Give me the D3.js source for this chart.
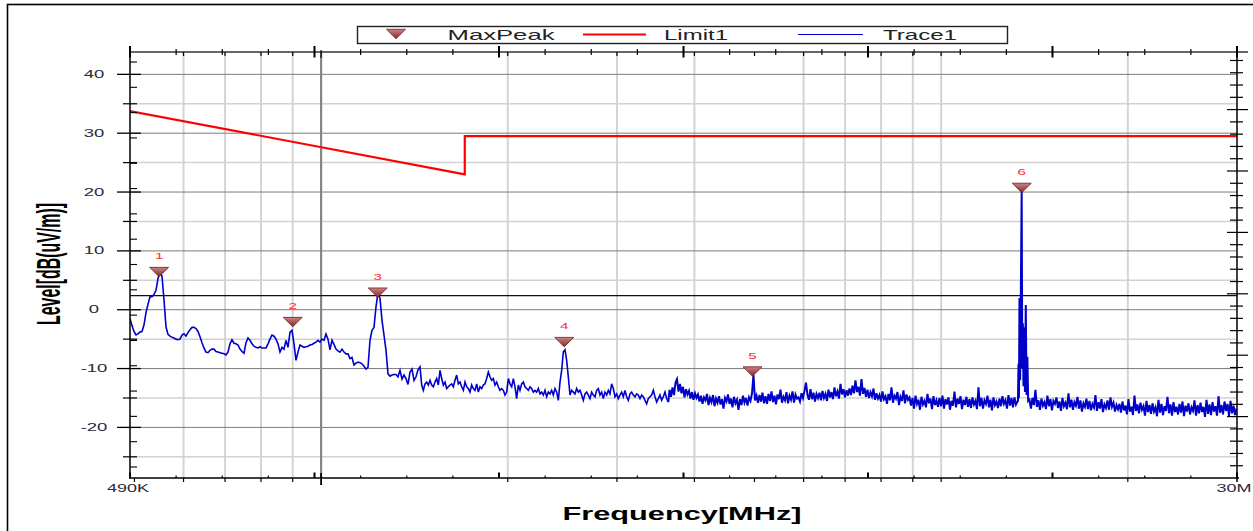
<!DOCTYPE html>
<html><head><meta charset="utf-8">
<script src="https://cdn.jsdelivr.net/npm/d3@7/dist/d3.min.js"></script>
<style>html,body{margin:0;padding:0;background:#fff;overflow:hidden}</style>
</head><body><svg id="c" width="1253" height="531"></svg>
<script>
// ---------------- DATA ----------------
const xDomain = [0.49, 30];            // MHz
const yDomain = [-28.6, 43.8];         // dBuV/m
const yTicks = [-20, -10, 0, 10, 20, 30, 40];
const yMinorGrid = [-25, -15, -5, 5, 15, 25, 35];
const xGridFreqs = [0.6, 0.7, 0.8, 0.9, 2, 3, 4, 6, 7, 8, 9, 10, 20];
const xDecadeGrid = [1];
const xLogTicks = [0.5, 0.6, 0.7, 0.8, 0.9, 1, 2, 3, 4, 5, 6, 7, 8, 9, 10, 20];
const xTickLabels = ["490K", "30M"];
const xTickLabelFreqs = [0.49, 30];
const limitFreq = [0.49, 1.705, 1.705, 30];
const limitLevel = [33.8, 23.0, 29.5, 29.5];
const displayLine = 2.4;
const markerFreq = [0.548, 0.900, 1.234, 2.467, 4.963, 13.49];
const markerLevel = [6.4, -2.1, 2.9, -5.5, -10.5, 20.7];
const markerLabel = ["1", "2", "3", "4", "5", "6"];
const legendNames = ["MaxPeak", "Limit1", "Trace1"];

// Trace1: sweep segments (start/stop MHz, levels at log-spaced sweep points)
const segA = {start: 0.4918, stop: 1.4438, levels: [
-1.5,-2.7,-3.7,-4.3,-4.1,-3.8,-3.7,-2.6,-0.5,0.9,
2.2,2.2,2.6,3.3,5.3,6.4,5.7,1.7,-2.9,-4.2,
-4.5,-4.7,-4.8,-5.0,-5.1,-5.0,-4.3,-4.1,-4.5,-3.9,
-3.4,-3.0,-3.0,-3.2,-3.7,-4.6,-5.6,-6.5,-7.2,-7.3,
-6.9,-6.7,-6.7,-7.1,-7.2,-7.3,-7.4,-7.5,-7.7,-7.2,
-5.8,-5.1,-5.7,-5.8,-6.0,-6.7,-7.1,-7.4,-5.6,-4.8,
-5.2,-5.8,-6.2,-6.4,-6.5,-6.3,-6.5,-6.5,-6.5,-5.8,
-5.0,-4.3,-4.5,-5.0,-5.8,-7.2,-6.4,-6.7,-5.2,-6.4,
-3.8,-3.5,-5.8,-8.6,-7.2,-6.0,-6.2,-6.4,-6.3,-6.2,
-6.0,-5.9,-5.7,-5.5,-5.2,-5.5,-5.0,-5.2,-4.1,-5.0,
-6.8,-5.2,-5.9,-6.7,-7.0,-7.2,-6.7,-7.2,-7.5,-7.5,
-8.3,-8.1,-9.4,-9.1,-8.9,-9.0,-9.2,-9.6,-10.1,-9.8,
-5.2,-3.5,-3.0,0.5,2.9,1.9,-1.8,-4.3,-6.9,-10.9,
-11.3,-11.1,-11.0,-11.0,-11.4,-10.3,-11.8,-11.1,-11.7,-12.7,
-10.6,-10.1,-12.0,-11.4,-10.2,-9.7]};
const segB = {start: 1.4528, stop: 3.6306, levels: [
-12.8,-13.7,-12.6,-12.3,-12.8,-12.0,-12.8,-13.1,-12.3,-11.7,
-12.8,-10.3,-11.7,-12.8,-12.3,-13.4,-13.1,-12.8,-12.6,-13.1,
-12.0,-11.1,-12.6,-12.3,-13.1,-13.7,-12.3,-13.1,-13.4,-14.0,
-12.8,-13.4,-13.7,-12.6,-14.0,-13.1,-13.4,-12.8,-12.6,-11.7,
-10.6,-11.4,-12.0,-11.7,-12.8,-12.3,-13.1,-13.7,-13.4,-13.7,
-14.5,-14.0,-11.7,-12.6,-13.1,-11.7,-13.1,-15.1,-12.8,-13.7,
-12.6,-12.3,-13.1,-13.4,-13.7,-13.1,-13.4,-14.0,-13.7,-14.0,
-13.4,-14.3,-14.0,-14.5,-13.7,-14.8,-14.0,-14.3,-13.7,-14.5,
-13.4,-14.0,-15.4,-12.3,-10.3,-7.2,-6.8,-8.6,-11.4,-14.5,
-13.7,-14.0,-14.3,-13.4,-14.0,-13.7,-14.5,-15.4,-14.3,-14.0,
-14.5,-15.1,-14.0,-14.5,-14.8,-13.7,-13.4,-14.5,-14.0,-15.1,
-14.0,-14.5,-13.7,-14.3,-12.6,-13.4,-14.8,-14.3,-15.1,-14.5,
-14.0,-14.8,-13.7,-14.8,-15.4,-14.3,-14.0,-14.5,-14.8,-14.3,
-14.5,-15.1,-14.5,-14.8,-15.4,-16.0,-15.1,-14.8,-14.5,-13.7,
-14.8,-15.7,-15.1,-14.5,-15.4,-14.8,-14.0,-15.1,-15.7]};
const segC1 = {start: 3.6465, stop: 13.276, levels: [
-13.6,-14.8,-13.2,-14.5,-12.4,-11.8,-13.9,-12.6,-14.2,-13.1,-14.9,-13.5,-14.4,-13.8,-15.1,-14.0,-15.3,-14.2,-15.0,-14.4,
-15.6,-14.6,-16.0,-14.9,-15.4,-14.3,-16.2,-15.0,-15.7,-14.5,-16.4,-15.1,-15.8,-14.7,-16.1,-15.2,-16.8,-15.0,-15.6,-14.4,
-16.0,-15.1,-16.6,-14.8,-15.9,-15.3,-17.0,-15.2,-16.2,-14.6,-15.8,-15.0,-16.3,-14.9,-15.5,-14.2,-11.1,-15.4,-14.6,-15.8,
-14.5,-15.6,-14.1,-15.9,-14.7,-16.0,-14.3,-15.5,-13.9,-15.7,-14.6,-16.1,-14.4,-15.2,-13.6,-15.8,-14.8,-15.4,-14.0,-15.9,
-14.6,-15.3,-13.9,-15.8,-14.4,-15.1,-14.9,-15.6,-14.2,-15.0,-13.8,-12.4,-14.5,-15.3,-13.5,-15.2,-14.1,-15.6,-14.3,-15.0,
-14.1,-15.4,-13.8,-15.0,-14.3,-15.5,-13.6,-14.9,-14.0,-15.2,-13.2,-14.7,-13.9,-15.1,-12.6,-14.4,-13.5,-14.9,-13.7,-14.6,
-13.4,-14.5,-12.9,-14.2,-12.0,-14.0,-13.1,-14.6,-11.8,-14.3,-13.3,-14.8,-13.6,-15.0,-14.0,-14.7,-13.4,-15.3,-14.2,-15.1,
-14.5,-15.6,-13.9,-15.2,-14.7,-16.0,-14.3,-15.4,-13.2,-15.8,-14.6,-15.1,-14.0,-16.2,-14.8,-15.5,-13.7,-15.9,-14.4,-15.3,
-14.9,-16.3,-15.0,-16.8,-14.6,-16.0,-15.3,-17.0,-14.8,-16.1,-15.5,-16.6,-14.3,-15.9,-15.1,-16.9,-14.7,-16.2,-15.4,-16.5,
-15.0,-16.4,-14.6,-16.8,-15.2,-16.1,-14.9,-17.0,-15.5,-16.3,-13.9,-16.6,-15.1,-16.0,-14.7,-16.9,-15.3,-16.2,-14.8,-16.5,
-15.2,-16.7,-14.9,-16.1,-15.5,-16.9,-13.2,-16.4,-15.0,-16.8,-15.4,-16.0,-14.6,-16.6,-15.3,-17.1,-14.9,-16.2,-15.6,-16.7,
-15.1,-16.4,-14.7,-16.0,-15.4,-16.8,-14.5,-16.3,-15.0,-16.6,-14.9,-16.1,-15.6]};
const peak6 = [[13.301,-15.5],[13.326,-9.2],[13.350,-15.0],[13.375,2.0],[13.410,-12.0],[13.440,1.5],
[13.485,20.2],[13.515,-10.0],[13.545,-2.3],[13.575,-13.0],[13.611,-3.0],[13.651,-14.0],
[13.692,0.8],[13.733,-14.5],[13.774,-8.0],[13.815,-15.5]];
const segC2 = {start: 13.879, stop: 29.947, levels: [
-15.3,-16.8,-15.0,-16.2,-13.6,-16.5,-15.4,-17.0,-15.1,-16.3,-15.7,-16.9,-14.6,-16.4,-15.2,-17.1,-15.5,-16.0,-14.9,-16.7,
-15.6,-17.2,-15.0,-16.4,-15.8,-16.9,-14.2,-16.6,-15.3,-17.0,-15.7,-16.3,-14.8,-16.8,-15.4,-17.3,-15.9,-16.5,-15.1,-16.9,
-15.5,-17.1,-16.0,-16.6,-14.5,-17.2,-15.7,-16.8,-15.2,-17.4,-16.1,-16.7,-15.4,-17.0,-14.9,-16.5,-15.8,-17.3,-16.2,-16.9,
-16.0,-17.5,-15.6,-17.1,-16.3,-17.8,-15.2,-17.3,-16.5,-17.9,-14.6,-17.2,-16.1,-17.6,-15.8,-17.0,-16.4,-18.0,-15.5,-17.4,
-16.2,-17.7,-15.9,-17.3,-16.6,-18.1,-15.3,-17.5,-16.0,-17.9,-16.4,-17.2,-14.8,-17.6,-16.1,-18.0,-15.7,-17.4,-16.5,-17.8,
-16.0,-17.5,-15.6,-18.1,-16.3,-17.3,-15.9,-17.8,-16.6,-17.2,-15.4,-18.0,-16.2,-17.6,-15.8,-17.4,-16.5,-18.2,-15.3,-17.7,
-16.1,-17.9,-15.7,-17.3,-16.4,-18.0,-14.7,-17.5,-16.2,-17.8,-15.6,-17.2,-16.0,-18.1,-15.5,-17.6,-16.3,-17.9,-16.8]};

// ---------------- DRAW ----------------
const FONT = "'Liberation Sans', Arial, Helvetica, sans-serif";
const svg = d3.select("#c");
const P = {l: 130, r: 1237, t: 52, b: 478};
const x = d3.scaleLog().domain(xDomain).range([129, 1237]);
const y = d3.scaleLinear().domain(yDomain).range([P.b, P.t]);

function sweep(seg) {
  const n = seg.levels.length;
  return seg.levels.map((v, i) => [seg.start * Math.pow(seg.stop / seg.start, i / (n - 1)), v]);
}
const traceSparse = [...sweep(segA), ...sweep(segB)];
const traceDense = [traceSparse[traceSparse.length - 1], ...sweep(segC1), ...peak6, ...sweep(segC2)];

function stext(g, px, py, str, o) {
  return g.append("text")
    .attr("transform", `translate(${px},${py}) scale(${o.sx || 1},1)`)
    .attr("text-anchor", o.anchor || "middle")
    .attr("font-family", FONT).attr("font-size", o.size)
    .attr("font-weight", o.weight || "normal")
    .attr("fill", o.fill || "#000").text(str);
}

const defs = svg.append("defs");
defs.append("clipPath").attr("id", "clip").append("rect")
  .attr("x", P.l).attr("y", P.t).attr("width", P.r - P.l).attr("height", P.b - P.t);
const grad = defs.append("linearGradient").attr("id", "mk").attr("x1", 0).attr("y1", 0).attr("x2", 0).attr("y2", 1);
grad.append("stop").attr("offset", "0").attr("stop-color", "#c98484");
grad.append("stop").attr("offset", "1").attr("stop-color", "#8a2424");

// outer frame
svg.append("rect").attr("x", 7.5).attr("y", 4.5).attr("width", 1400).attr("height", 700)
  .attr("fill", "none").attr("stroke", "#000").attr("stroke-width", 1.6);

// grid
const grid = svg.append("g");
grid.selectAll(".vg").data(xGridFreqs).join("line")
  .attr("x1", d => x(d)).attr("x2", d => x(d)).attr("y1", P.t).attr("y2", P.b)
  .attr("stroke", "#d4d4d4").attr("stroke-width", 2);
grid.selectAll(".hmg").data(yMinorGrid).join("line")
  .attr("x1", P.l).attr("x2", P.r).attr("y1", d => y(d)).attr("y2", d => y(d))
  .attr("stroke", "#d2d2d2").attr("stroke-width", 1.5);
grid.selectAll(".hg").data(yTicks).join("line")
  .attr("x1", P.l).attr("x2", P.r).attr("y1", d => y(d)).attr("y2", d => y(d))
  .attr("stroke", "#7c7c7c").attr("stroke-width", 1);
grid.selectAll(".dg").data(xDecadeGrid).join("line")
  .attr("x1", d => x(d)).attr("x2", d => x(d)).attr("y1", P.t).attr("y2", P.b)
  .attr("stroke", "#858585").attr("stroke-width", 2.2);
grid.append("line").attr("x1", P.l).attr("x2", P.r)
  .attr("y1", y(displayLine)).attr("y2", y(displayLine))
  .attr("stroke", "#111").attr("stroke-width", 1.1);

// data
const data = svg.append("g").attr("clip-path", "url(#clip)");
const line = d3.line().x(d => x(d[0])).y(d => y(d[1]));
data.append("path").datum(limitFreq.map((f, i) => [f, limitLevel[i]]))
  .attr("d", line).attr("fill", "none").attr("stroke", "#ff0000").attr("stroke-width", 2.2);
data.append("path").datum(traceSparse)
  .attr("d", line).attr("fill", "none").attr("stroke", "#0000cc")
  .attr("stroke-width", 1.6);
data.append("path").datum(traceDense)
  .attr("d", line).attr("fill", "none").attr("stroke", "#0000c8")
  .attr("stroke-width", 2.0);

// markers
const tri = "M-9.5,-4.7L9.5,-4.7L0,4.7Z";
const mg = svg.append("g");
markerFreq.forEach((f, i) => {
  mg.append("path").attr("d", tri)
    .attr("transform", `translate(${x(f)},${y(markerLevel[i])})`)
    .attr("fill", "url(#mk)").attr("stroke", "#6e1c1c").attr("stroke-width", 0.8);
  stext(mg, x(f), y(markerLevel[i]) - 13, markerLabel[i], {size: 9.5, sx: 1.6, fill: "#ff2e2e"});
});

// axes lines
const ax = svg.append("g").attr("stroke", "#000");
ax.append("line").attr("x1", P.l).attr("x2", P.l).attr("y1", 46.5).attr("y2", P.b + 0.5).attr("stroke-width", 1.5);
ax.append("line").attr("x1", P.r).attr("x2", P.r).attr("y1", 46.5).attr("y2", P.b + 4).attr("stroke-width", 1.5);
ax.append("line").attr("x1", P.l).attr("x2", 1248).attr("y1", P.t).attr("y2", P.t).attr("stroke", "#333").attr("stroke-width", 1.3);
ax.append("line").attr("x1", P.l - 1).attr("x2", P.r + 2).attr("y1", P.b).attr("y2", P.b).attr("stroke-width", 1.5);

// left ticks
ax.selectAll(".lt").data(yTicks).join("line")
  .attr("x1", 117).attr("x2", 141).attr("y1", d => y(d)).attr("y2", d => y(d)).attr("stroke-width", 1.3);
ax.selectAll(".lmt").data(yMinorGrid).join("line")
  .attr("x1", 123).attr("x2", 137).attr("y1", d => y(d)).attr("y2", d => y(d)).attr("stroke-width", 1.2);
const leftSec = d3.scaleLinear().domain([0, 16]).range([467, 62]);
ax.selectAll(".lst").data(d3.range(17)).join("line")
  .attr("x1", P.l).attr("x2", P.l + 7).attr("y1", d => leftSec(d)).attr("y2", d => leftSec(d)).attr("stroke-width", 1.1);
// right ticks
const rightSec = d3.scaleLinear().domain([0, 34]).range([P.b, P.b - 34 * 12.28]);
ax.selectAll(".rt").data(d3.range(1, 35)).join("line")
  .attr("x1", d => d % 5 === 0 ? 1227 : 1230).attr("x2", d => d % 5 === 0 ? 1248 : 1243)
  .attr("y1", d => rightSec(d)).attr("y2", d => rightSec(d)).attr("stroke-width", 1.2);
// top / bottom linear ticks
const linTick = d3.scaleLinear().domain([0, 24]).range([P.l, P.r]);
ax.selectAll(".tt").data(d3.range(25)).join("line")
  .attr("x1", d => linTick(d)).attr("x2", d => linTick(d))
  .attr("y1", d => d % 4 === 0 ? 46 : 49).attr("y2", d => d % 4 === 0 ? 57.5 : 55)
  .attr("stroke-width", d => d % 4 === 0 ? 2 : 1.2);
ax.selectAll(".bt").data(d3.range(25)).join("line")
  .attr("x1", d => linTick(d)).attr("x2", d => linTick(d))
  .attr("y1", d => d % 4 === 0 ? 472.5 : 475.5).attr("y2", P.b)
  .attr("stroke-width", d => d % 4 === 0 ? 2 : 1.2);
// log ticks
ax.selectAll(".tlt").data(xLogTicks.filter(f => f > 0.55)).join("line")
  .attr("x1", d => x(d)).attr("x2", d => x(d))
  .attr("y1", d => d === 1 ? 50 : P.t).attr("y2", d => d === 1 ? 58 : 56)
  .attr("stroke-width", 1.2);
ax.selectAll(".blt").data(xLogTicks).join("line")
  .attr("x1", d => x(d)).attr("x2", d => x(d))
  .attr("y1", d => d === 1 ? 473 : P.b).attr("y2", d => d === 1 ? 485 : 482)
  .attr("stroke-width", d => d === 1 ? 1.8 : 1.2);

// tick labels
const tl = svg.append("g");
yTicks.forEach(v => stext(tl, 94, y(v) + 3.6, String(v), {size: 10, sx: 1.85, fill: "#2a2a3a"}));
xTickLabels.forEach((t, i) => stext(tl, x(xTickLabelFreqs[i]) + (i === 0 ? -1 : -3), 491.5, t, {size: 10, sx: 1.8, fill: "#2a2a3a"}));

// axis titles
svg.append("text").attr("x", 682).attr("y", 520).attr("text-anchor", "middle")
  .attr("font-family", FONT).attr("font-size", 17.5).attr("font-weight", "bold")
  .attr("textLength", 239).attr("lengthAdjust", "spacingAndGlyphs").text("Frequency[MHz]");
svg.append("text").attr("transform", "translate(60,264) scale(2.1,1) rotate(-90)")
  .attr("text-anchor", "middle").attr("font-family", FONT).attr("font-size", 16).attr("font-weight", "bold")
  .attr("textLength", 122).attr("lengthAdjust", "spacingAndGlyphs").text("Level[dB(uV/m)]");

// legend
const lg = svg.append("g");
lg.append("rect").attr("x", 357.5).attr("y", 26.5).attr("width", 650).attr("height", 17)
  .attr("fill", "#fff").attr("stroke", "#222").attr("stroke-width", 1.4);
lg.append("path").attr("d", tri).attr("transform", "translate(396,34)")
  .attr("fill", "url(#mk)").attr("stroke", "#6e1c1c").attr("stroke-width", 0.8);
lg.append("line").attr("x1", 583).attr("x2", 646).attr("y1", 34.5).attr("y2", 34.5).attr("stroke", "#ff0000").attr("stroke-width", 2);
lg.append("line").attr("x1", 798).attr("x2", 863).attr("y1", 34.5).attr("y2", 34.5).attr("stroke", "#0000cc").attr("stroke-width", 1);
const legX = [447.5, 664, 883], legW = [107, 64, 74];
legendNames.forEach((n, i) => lg.append("text").attr("x", legX[i]).attr("y", 39.5)
  .attr("font-family", FONT).attr("font-size", 15).attr("fill", "#222")
  .attr("textLength", legW[i]).attr("lengthAdjust", "spacingAndGlyphs").text(n));
</script></body></html>
